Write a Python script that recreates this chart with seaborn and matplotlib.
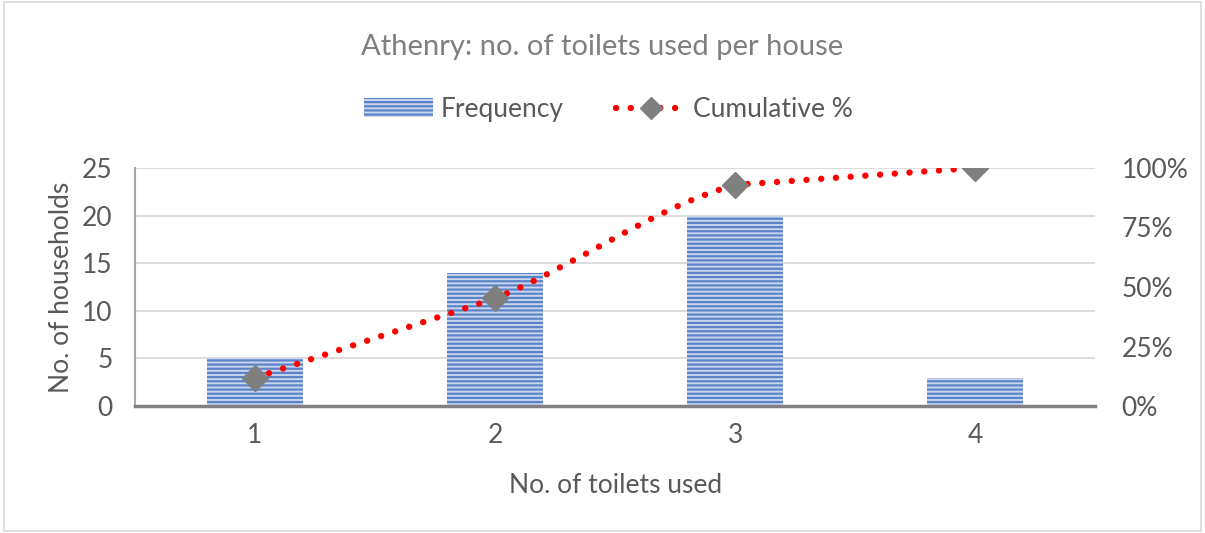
import matplotlib
matplotlib.use("Agg")
import matplotlib.pyplot as plt
import seaborn as sns
import pandas as pd
from matplotlib.patches import Patch, PathPatch, Rectangle
from matplotlib.lines import Line2D
from matplotlib.path import Path
from matplotlib.ticker import PercentFormatter

# data
toilets = ["1", "2", "3", "4"]
frequency = [5, 14, 20, 3]
cumulative = [5 / 42, 19 / 42, 39 / 42, 42 / 42]

sns.set_style("white")
plt.rcParams["font.family"] = ["Lato", "DejaVu Sans"]
plt.rcParams["hatch.linewidth"] = 1.6

text_grey = "#595959"
bar_face = "#C9D6EE"
bar_hatch = "#5B84C8"
fs = 19

df = pd.DataFrame({"toilets": toilets, "frequency": frequency})

fig = plt.figure(figsize=(12.05, 5.33), dpi=100)
ax = fig.add_axes([0.112, 0.238, 0.797, 0.447])

sns.barplot(data=df, x="toilets", y="frequency", ax=ax, width=0.4,
            color=bar_face, saturation=1, zorder=2)
for p in ax.patches:
    p.set_hatch("----")
    p.set_edgecolor(bar_hatch)
    p.set_linewidth(0)

ax.set_xlim(-0.5, 3.5)
ax.set_ylim(0, 25)
ax.set_yticks(range(0, 26, 5))
ax.grid(axis="y", color="#D9D9D9", linewidth=1.3, zorder=0)
ax.set_axisbelow(True)
for s in ["top", "right"]:
    ax.spines[s].set_visible(False)
ax.spines["left"].set_color("#A6A6A6")
ax.spines["left"].set_linewidth(1.5)
ax.spines["bottom"].set_color("#808080")
ax.spines["bottom"].set_linewidth(2.5)
ax.tick_params(length=0, labelsize=fs, labelcolor=text_grey)
ax.tick_params(axis="x", pad=12)
ax.tick_params(axis="y", pad=16)
ax.set_xlabel("No. of toilets used", fontsize=fs, color=text_grey, labelpad=18)
ax.set_ylabel("No. of households", fontsize=fs, color=text_grey, labelpad=6)

# secondary axis for cumulative %
ax2 = ax.twinx()
ax2.set_ylim(0, 1)
ax2.set_yticks([0, 0.25, 0.5, 0.75, 1.0])
ax2.yaxis.set_major_formatter(PercentFormatter(1.0, decimals=0))
ax2.tick_params(length=0, labelsize=fs, labelcolor=text_grey, pad=19)
for s in ax2.spines.values():
    s.set_visible(False)

# smoothed curve through the cumulative points (bezier, clamped like Excel)
xs = list(range(len(cumulative)))
pts = list(zip(xs, cumulative))
verts = [pts[0]]
codes = [Path.MOVETO]
for i in range(len(pts) - 1):
    p0 = pts[i - 1] if i > 0 else pts[i]
    p1 = pts[i]
    p2 = pts[i + 1]
    p3 = pts[i + 2] if i + 2 < len(pts) else pts[i + 1]
    lim = (p2[1] - p1[1]) / 3
    d1 = min((p2[1] - p0[1]) / 6, lim)
    d2 = min((p3[1] - p1[1]) / 6, lim)
    c1 = (p1[0] + (p2[0] - p0[0]) / 6, p1[1] + d1)
    c2 = (p2[0] - (p3[0] - p1[0]) / 6, p2[1] - d2)
    verts += [c1, c2, p2]
    codes += [Path.CURVE4] * 3
curve = PathPatch(Path(verts, codes), fill=False, edgecolor="#FF0000",
                  linewidth=4.6, linestyle=(0, (0.01, 2.3)), capstyle="round",
                  zorder=3)
ax2.add_patch(curve)
ax2.plot(xs, cumulative, linestyle="none", marker="D", markersize=13,
         color="#7F7F7F", zorder=4)

# title and legend
fig.text(0.5, 0.912, "Athenry: no. of toilets used per house", ha="center",
         va="center", fontsize=21, color="#7F7F7F")
handles = [
    Patch(facecolor=bar_face, edgecolor=bar_hatch, hatch="----", linewidth=0),
    Line2D([0], [0], color="#FF0000", linewidth=4.6, linestyle=(0, (0.01, 2.3)),
           dash_capstyle="round", marker="D", markersize=11,
           markerfacecolor="#7F7F7F", markeredgecolor="#7F7F7F"),
]
fig.legend(handles, ["Frequency", "Cumulative %"], loc="center",
           bbox_to_anchor=(0.505, 0.795), ncol=2, frameon=False, fontsize=fs,
           labelcolor=text_grey, handlelength=2.6, handletextpad=0.3,
           columnspacing=2.0)

fig.add_artist(Rectangle((0.003, 0.003), 0.994, 0.994, transform=fig.transFigure,
                         fill=False, edgecolor="#D9D9D9", linewidth=1.2))

fig.savefig("out.png", dpi=100)
